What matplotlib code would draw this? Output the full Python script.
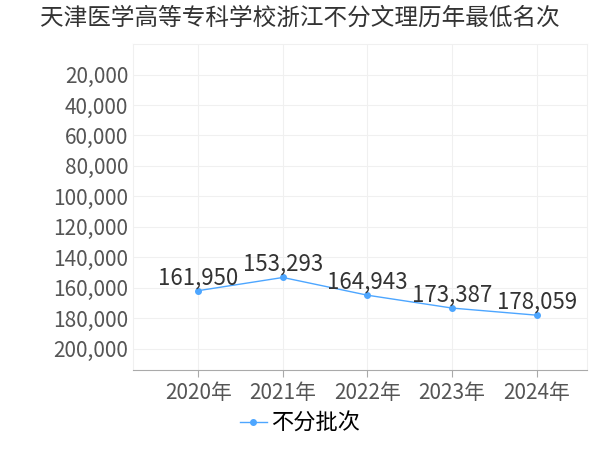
import matplotlib.pyplot as plt
from matplotlib.ticker import FuncFormatter

plt.rcParams['font.family'] = ['Noto Sans CJK SC', 'DejaVu Sans']

years = ["2020年", "2021年", "2022年", "2023年", "2024年"]
ranks = [161950, 153293, 164943, 173387, 178059]
yticks = [20000, 40000, 60000, 80000, 100000, 120000, 140000, 160000, 180000, 200000]

fig = plt.figure(figsize=(6, 4.5), dpi=100)
ax = fig.add_axes([0.222, 0.178, 0.757, 0.724])
x = range(len(years))
ax.plot(x, ranks, color="#4da6ff", marker="o", markersize=4, linewidth=1, label="不分批次")
for xi, v in zip(x, ranks):
    ax.annotate(f"{v:,}", (xi, v), xytext=(0, 1), textcoords="offset points",
                ha="center", va="bottom", fontsize=16, color="#333333")

ax.set_xlim(-0.77, 4.6)
ax.set_ylim(214000, 0)
ax.set_yticks(yticks)
ax.yaxis.set_major_formatter(FuncFormatter(lambda v, p: f"{int(v):,}"))
ax.set_xticks(list(x))
ax.set_xticklabels(years)
ax.tick_params(axis="both", labelsize=15, colors="#555555", length=0)
ax.grid(True, color="#f0f0f0", linewidth=0.8)
for s in ["top", "right"]:
    ax.spines[s].set_color("#f0f0f0")
ax.spines["left"].set_color("#f0f0f0")
ax.spines["bottom"].set_color("#aaaaaa")
ax.tick_params(axis="x", length=5, color="#aaaaaa")

fig.text(0.5, 0.985, "天津医学高等专科学校浙江不分文理历年最低名次", ha="center", va="top", fontsize=17, color="#333333")
fig.legend(loc="lower center", bbox_to_anchor=(0.5, -0.01), frameon=False, fontsize=16,
           handlelength=1.2, handletextpad=0.2)
fig.savefig("out.png")
